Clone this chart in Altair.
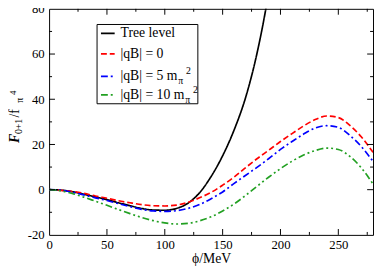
import altair as alt
import pandas as pd

# ---- data ----
phi_tree = [0, 10, 20, 30, 40, 50, 60, 70, 80, 90, 100, 110, 120, 130, 140, 150, 160, 170, 180, 187, 190]
tree = [0, -0.2, -0.9, -2.0, -3.2, -4.4, -5.8, -7.1, -8.3, -9.0, -9.1, -8.3, -6.0, -1.4, 5.8, 15.0, 26.5, 41.0, 61.0, 79.0, 88.0]

phi = [0, 10, 20, 30, 40, 50, 60, 70, 80, 90, 100, 110, 120, 130, 140,
       150, 160, 170, 180, 190, 200, 210, 220, 230, 240, 250, 260, 270, 280]
qb0 = [0, -0.3, -0.8, -1.6, -2.8, -3.8, -4.9, -5.8, -6.6, -7.1, -7.2, -6.8, -5.6, -3.6, -1.2,
       2.0, 5.6, 9.8, 13.8, 17.5, 21.3, 24.8, 28.2, 31.0, 32.6, 31.9, 28.4, 23.3, 16.5]
qb5 = [0, -0.2, -1.1, -2.3, -3.6, -4.8, -6.2, -7.5, -8.7, -9.4, -9.6, -9.3, -8.3, -6.6, -4.0,
       -1.0, 2.8, 6.4, 10.0, 13.8, 17.8, 21.3, 24.6, 27.3, 28.3, 27.6, 24.0, 19.0, 12.5]
qb10 = [0, -0.5, -1.7, -3.3, -5.1, -6.9, -8.8, -10.6, -12.3, -13.7, -14.7, -15.2, -14.9, -13.8, -12.0,
        -9.4, -6.3, -2.5, 1.6, 5.6, 9.3, 12.6, 15.3, 17.3, 18.4, 17.8, 14.7, 9.6, 2.5]

series_names = ["Tree level", "|qB| = 0", "|qB| = 5", "|qB| = 10"]
series_colors = ["#000000", "#ff0000", "#0000ff", "#22a022"]
series_dash = [[1, 0], [6, 3], [7, 3, 2, 3], [7, 3, 2, 3, 2, 3]]

x_major = [0, 50, 100, 150, 200, 250]
x_minor = [25, 75, 125, 175, 225, 275]
y_major = [-20, 0, 20, 40, 60, 80]
y_minor = [-10, 10, 30, 50, 70]

# ---- build table ----
rows = []
for x, y in zip(phi_tree, tree):
    rows.append({"phi": x, "F": y, "s": series_names[0]})
for name, vals in zip(series_names[1:], [qb0, qb5, qb10]):
    for x, y in zip(phi, vals):
        rows.append({"phi": x, "F": y, "s": name})
df = pd.DataFrame(rows)

W, H = 331, 231
SERIF = "Liberation Serif, Times New Roman, Times, DejaVu Serif, serif"

xscale = alt.Scale(domain=[0, 280], nice=False, zero=False)
yscale = alt.Scale(domain=[-20, 80], nice=False, zero=False)

lines = alt.Chart(df).mark_line(clip=True, strokeWidth=1.7, interpolate="monotone").encode(
    x=alt.X("phi:Q", scale=xscale,
            axis=alt.Axis(values=x_major, ticks=False, domain=False, grid=False,
                          labelFont=SERIF, labelFontSize=13, labelColor="black",
                          labelFlush=False, labelPadding=4,
                          title="ϕ/MeV", titleFont=SERIF, titleFontSize=14,
                          titleFontWeight="normal", titleColor="black", titlePadding=0)),
    y=alt.Y("F:Q", scale=yscale,
            axis=alt.Axis(values=y_major, ticks=False, domain=False, grid=False,
                          labelFont=SERIF, labelFontSize=13, labelColor="black",
                          labelFlush=False, labelPadding=5,
                          labelExpr="datum.value < 0 ? '-' + abs(datum.value) : '' + datum.value",
                          title=None)),
    color=alt.Color("s:N", scale=alt.Scale(domain=series_names, range=series_colors), legend=None),
    strokeDash=alt.StrokeDash("s:N", scale=alt.Scale(domain=series_names, range=series_dash), legend=None),
    order=alt.Order("phi:Q"),
)

def xticks(vals, length):
    d = pd.DataFrame({"v": vals})
    bot = alt.Chart(d).mark_rule(color="black", strokeWidth=1).encode(
        x=alt.X("v:Q", scale=xscale), y=alt.value(H), y2=alt.value(H - length))
    top = alt.Chart(d).mark_rule(color="black", strokeWidth=1).encode(
        x=alt.X("v:Q", scale=xscale), y=alt.value(0), y2=alt.value(length))
    return [bot, top]

def yticks(vals, length):
    d = pd.DataFrame({"v": vals})
    left = alt.Chart(d).mark_rule(color="black", strokeWidth=1).encode(
        y=alt.Y("v:Q", scale=yscale), x=alt.value(0), x2=alt.value(length))
    right = alt.Chart(d).mark_rule(color="black", strokeWidth=1).encode(
        y=alt.Y("v:Q", scale=yscale), x=alt.value(W), x2=alt.value(W - length))
    return [left, right]

ticks = xticks(x_major[1:], 6) + xticks(x_minor, 3) + yticks(y_major[1:-1], 6) + yticks(y_minor, 3)

one = alt.Data(values=[{"a": 1}])

# ---- legend (custom, to get sub/superscripts) ----
legend_layers = []
legend_layers.append(alt.Chart(one).mark_rect(fill="white", stroke="black", strokeWidth=1).encode(
    x=alt.value(49), x2=alt.value(152), y=alt.value(16), y2=alt.value(97)))
line_y = [25, 46, 69, 88]
base_y = [29, 50, 73, 92]
for i, name in enumerate(series_names):
    legend_layers.append(alt.Chart(one).mark_rule(
        color=series_colors[i], strokeWidth=1.7, strokeDash=series_dash[i]).encode(
        x=alt.value(53), x2=alt.value(67), y=alt.value(line_y[i])))
    label = name if i < 2 else name + " m"
    legend_layers.append(alt.Chart(one).mark_text(
        text=label, font=SERIF, fontSize=14, align="left", baseline="alphabetic", color="black").encode(
        x=alt.value(73), y=alt.value(base_y[i])))
    if i >= 2:
        off = 0 if i == 2 else 7
        legend_layers.append(alt.Chart(one).mark_text(
            text="π", font=SERIF, fontSize=10, align="left", baseline="alphabetic", color="black").encode(
            x=alt.value(132 + off), y=alt.value(base_y[i] + 4)))
        legend_layers.append(alt.Chart(one).mark_text(
            text="2", font=SERIF, fontSize=10, align="left", baseline="alphabetic", color="black").encode(
            x=alt.value(140 + off), y=alt.value(base_y[i] - 6)))

# ---- y title: F_{0+1}/f_pi^4 rotated ----
ytitle = [
    ("F", 14, "bold", "italic", -30.5, 137),
    ("0+1", 10, "normal", "normal", -27.5, 128),
    ("/f", 14, "normal", "normal", -30.5, 111),
    ("π", 10, "normal", "normal", -27, 96),
    ("4", 9, "normal", "normal", -34, 88),
]
ytitle_layers = []
for t, fs, fw, fst, xx, yy in ytitle:
    ytitle_layers.append(alt.Chart(one).mark_text(
        text=t, font=SERIF, fontSize=fs, fontWeight=fw, fontStyle=fst, angle=270,
        align="left", baseline="alphabetic", color="black").encode(
        x=alt.value(xx), y=alt.value(yy)))

chart = alt.layer(lines, *ticks, *legend_layers, *ytitle_layers).properties(
    width=W, height=H,
    autosize=alt.AutoSizeParams(type="none"),
    padding={"left": 42, "top": -2, "right": 1, "bottom": 32},
).configure_view(stroke="black", strokeWidth=1)

chart.save("out.html", embed_options={"renderer": "svg", "actions": False})
